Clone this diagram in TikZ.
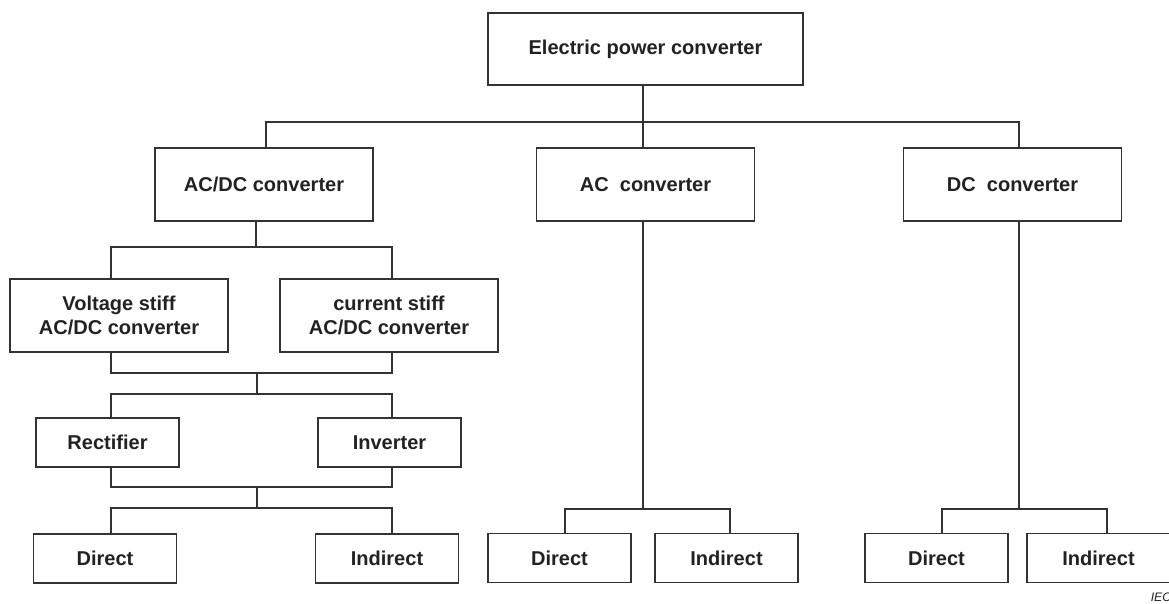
\documentclass[tikz,border=0pt]{standalone}
\usepackage{fontspec}
\setmainfont{Liberation Sans}
\usepackage{tikz}
\usetikzlibrary{positioning}

\definecolor{linegray}{HTML}{333333}
\definecolor{textgray}{HTML}{222222}

\begin{document}
\begin{tikzpicture}[x=0.02cm, y=-0.02cm, line width=0.9pt,
		every node/.style={font=\fontsize{11.4}{13.7}\selectfont\bfseries, text=textgray},
		block/.style={draw=linegray, fill=white, align=center, inner sep=2pt},
		bigbox/.style={block, minimum width=4.36cm, minimum height=1.46cm},
		smallbox/.style={block, minimum width=2.86cm, minimum height=0.98cm},
		wire/.style={draw=linegray}]
			\useasboundingbox (0,0) rectangle (1169,603);
			
			% Top of the tree
			\node[block, minimum width=6.3cm, minimum height=1.44cm] (epc) at (645.5,49) {Electric power converter};
			\node[bigbox] (acdc) at (264,184.5) {AC/DC converter};
			\node[bigbox] (ac) at (645.5,184.5) {AC~ converter};
			\node[bigbox] (dc) at (1012.5,184.5) {DC~ converter};
			
			% AC/DC branch
			\node[bigbox] (vs) at (119,315.5) {Voltage stiff\\AC/DC converter};
			\node[bigbox] (cs) at (389,315.5) {current stiff\\AC/DC converter};
			\node[smallbox] (rect) at (107.5,442.5) {Rectifier};
			\node[smallbox] (inv) at (389.5,442.5) {Inverter};
			\node[smallbox] (ldir) at (105,558.5) {Direct};
			\node[smallbox] (lind) at (387,558.5) {Indirect};
			
			% AC and DC branches
			\node[smallbox] (acdir) at (559.5,558) {Direct};
			\node[smallbox] (acind) at (726.5,558) {Indirect};
			\node[smallbox] (dcdir) at (936.5,558) {Direct};
			\node[smallbox] (dcind) at (1098.5,558) {Indirect};
			
			% Junction points of the wiring
			\coordinate (top) at (643,122);
			\coordinate (split1) at (256,247);
			\coordinate (merge1) at (257,373);
			\coordinate (split2) at (257,394);
			\coordinate (merge2) at (257,487);
			\coordinate (split3) at (257,508);
			\coordinate (split4) at (643,509);
			\coordinate (split5) at (1019,509);
			
			% Wiring (the lines sit a little off the box centres)
			\draw[wire] ([xshift=-0.05cm]epc.south) -- (top);
			\draw[wire] (top) -| ([xshift=0.04cm]acdc.north);
			\draw[wire] (top) -- ([xshift=-0.05cm]ac.north);
			\draw[wire] (top) -| ([xshift=0.13cm]dc.north);
			\draw[wire] ([xshift=-0.16cm]acdc.south) -- (split1);
			\draw[wire] (split1) -| ([xshift=-0.16cm]vs.north);
			\draw[wire] (split1) -| ([xshift=0.06cm]cs.north);
			\draw[wire] ([xshift=-0.16cm]vs.south) |- (merge1) -| ([xshift=0.06cm]cs.south);
			\draw[wire] (merge1) -- (split2);
			\draw[wire] (split2) -| ([xshift=0.07cm]rect.north);
			\draw[wire] (split2) -| ([xshift=0.05cm]inv.north);
			\draw[wire] ([xshift=0.07cm]rect.south) |- (merge2) -| ([xshift=0.05cm]inv.south);
			\draw[wire] (merge2) -- (split3);
			\draw[wire] (split3) -| ([xshift=0.12cm]ldir.north);
			\draw[wire] (split3) -| ([xshift=0.1cm]lind.north);
			\draw[wire] ([xshift=-0.05cm]ac.south) -- (split4);
			\draw[wire] (split4) -| ([xshift=0.11cm]acdir.north);
			\draw[wire] (split4) -| ([xshift=0.07cm]acind.north);
			\draw[wire] ([xshift=0.13cm]dc.south) -- (split5);
			\draw[wire] (split5) -| ([xshift=0.11cm]dcdir.north);
			\draw[wire] (split5) -| ([xshift=0.17cm]dcind.north);
			
			% Source mark, cut by the page edge
			\node[anchor=west, font=\fontsize{7}{8}\selectfont\itshape, text=textgray, inner sep=0pt] (iec) at (1150,597) {IEC};
		\end{tikzpicture}
\end{document}
